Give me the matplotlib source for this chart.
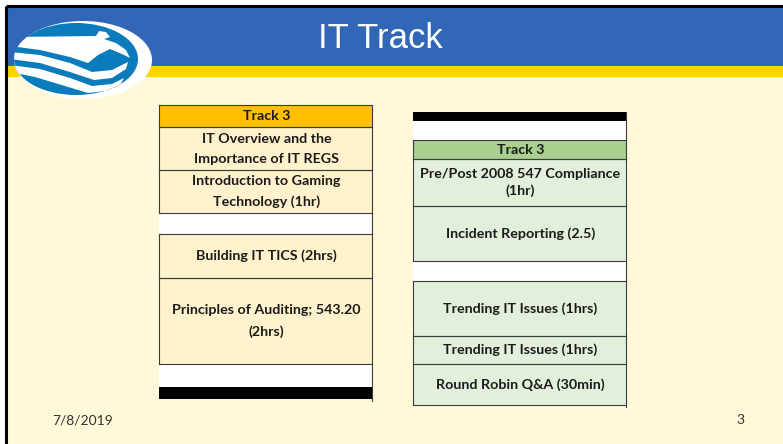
import numpy as np
import matplotlib
matplotlib.use("Agg")
import matplotlib.pyplot as plt
from matplotlib.patches import Rectangle, Ellipse, Polygon

# slide text
title = "IT Track"
footer_date = "7/8/2019"
footer_page = "3"

# left table: one label per row, row kinds
left_labels = ["Track 3",
               "IT Overview and the\nImportance of IT REGS",
               "Introduction to Gaming\nTechnology (1hr)",
               "",
               "Building IT TICS (2hrs)",
               "Principles of Auditing; 543.20\n(2hrs)",
               "",
               ""]
left_kinds = ["head", "cell", "cell", "blank", "cell", "cell", "blank", "bar"]

# right table
right_labels = ["",
                "",
                "Track 3",
                "Pre/Post 2008 547 Compliance\n(1hr)",
                "Incident Reporting (2.5)",
                "",
                "Trending IT Issues (1hrs)",
                "Trending IT Issues (1hrs)",
                "Round Robin Q&A (30min)"]
right_kinds = ["bar", "blank", "head", "cell", "cell", "blank", "cell", "cell", "cell"]

# layout (pixels)
W, H = 783, 444
left_x = (159, 372)
left_edges = [105, 127, 170, 213, 234, 278, 364, 387, 399]
right_x = (413, 626)
right_edges = [112, 121, 140, 159, 206, 261, 281, 336, 364, 405]

BLUE = "#3267b7"
YELLOW = "#fcd10a"
CREAM = "#fff9da"
LINE = "#3c3c3c"
TXT_FONT = ["Lato", "DejaVu Sans"]

fig = plt.figure(figsize=(W / 100, H / 100), dpi=100)
ax = fig.add_axes([0, 0, 1, 1])
ax.set_xlim(0, W)
ax.set_ylim(H, 0)
ax.axis("off")
fig.patch.set_facecolor("white")

# background, header band, stripe
ax.add_patch(Rectangle((6, 7), W, H, fc=CREAM, ec="none"))
ax.add_patch(Rectangle((6, 7), W, 59, fc=BLUE, ec="none"))
ax.add_patch(Rectangle((6, 66), W, 11, fc=YELLOW, ec="none"))
ax.plot([5.5, W], [6.5, 6.5], color="black", lw=2.2, solid_capstyle="butt")
ax.plot([5.5, 5.5], [6.5, H], color="black", lw=2.2, solid_capstyle="butt")

# logo
ax.add_patch(Ellipse((83, 60), 138, 78, fc="white", ec="none"))
inner = Ellipse((76, 59), 124, 72, fc="#0b7bbb", ec="none")
ax.add_patch(inner)
shapes = [[(10, 37), (96, 36), (99, 31), (106, 32), (110, 37), (104, 39),
           (116, 43), (126, 50), (130, 58), (122, 54), (110, 49), (98, 55),
           (88, 63), (70, 57), (40, 50), (10, 46)],
          [(10, 52), (40, 55), (70, 63), (92, 72), (112, 70), (128, 62),
           (126, 69), (112, 78), (94, 80), (70, 72), (40, 63), (10, 59)],
          [(10, 65), (40, 69), (70, 78), (92, 86), (112, 84), (124, 78),
           (120, 85), (106, 91), (88, 93), (65, 86), (35, 77), (10, 72)]]
for pts in shapes:
    p = Polygon(pts, closed=True, fc="white", ec="none")
    ax.add_patch(p)
    p.set_clip_path(inner)

ax.text(380, 38, title, color="white", fontsize=25,
        family=["Liberation Sans", "DejaVu Sans"], ha="center", va="center")


def draw_table(xr, edges, labels, kinds, cell_c, head_c, spacing):
    x0, x1 = xr
    for i, (lab, kind) in enumerate(zip(labels, kinds)):
        y0, y1 = edges[i], edges[i + 1]
        fc = {"head": head_c, "cell": cell_c, "blank": "white", "bar": "black"}[kind]
        ax.add_patch(Rectangle((x0, y0), x1 - x0, y1 - y0, fc=fc, ec="none"))
        if kind in ("head", "cell"):
            ax.plot([x0, x1], [y0, y0], color=LINE, lw=0.8)
            ax.plot([x0, x1], [y1, y1], color=LINE, lw=0.8)
            ax.plot([x0, x0], [y0, y1], color=LINE, lw=0.8)
        if lab:
            ax.text((x0 + x1) / 2 + 1, (y0 + y1) / 2, lab, ha="center",
                    va="center", fontsize=10.3, fontweight="bold",
                    family=TXT_FONT, color="#1b1b1b", linespacing=spacing,
                    multialignment="center")
    ax.plot([x1, x1], [edges[0], edges[-1] + 2], color=LINE, lw=0.8)


draw_table(left_x, left_edges, left_labels, left_kinds,
           "#fff2cc", "#ffc000", 1.8)
draw_table(right_x, right_edges, right_labels, right_kinds,
           "#e2efda", "#a9d08e", 1.5)

ax.text(52, 420, footer_date, fontsize=10, family=TXT_FONT,
        color="#333333", va="center", ha="left")
ax.text(740, 420, footer_page, fontsize=10, family=TXT_FONT,
        color="#333333", va="center", ha="center")

fig.savefig("out.png", dpi=100)
